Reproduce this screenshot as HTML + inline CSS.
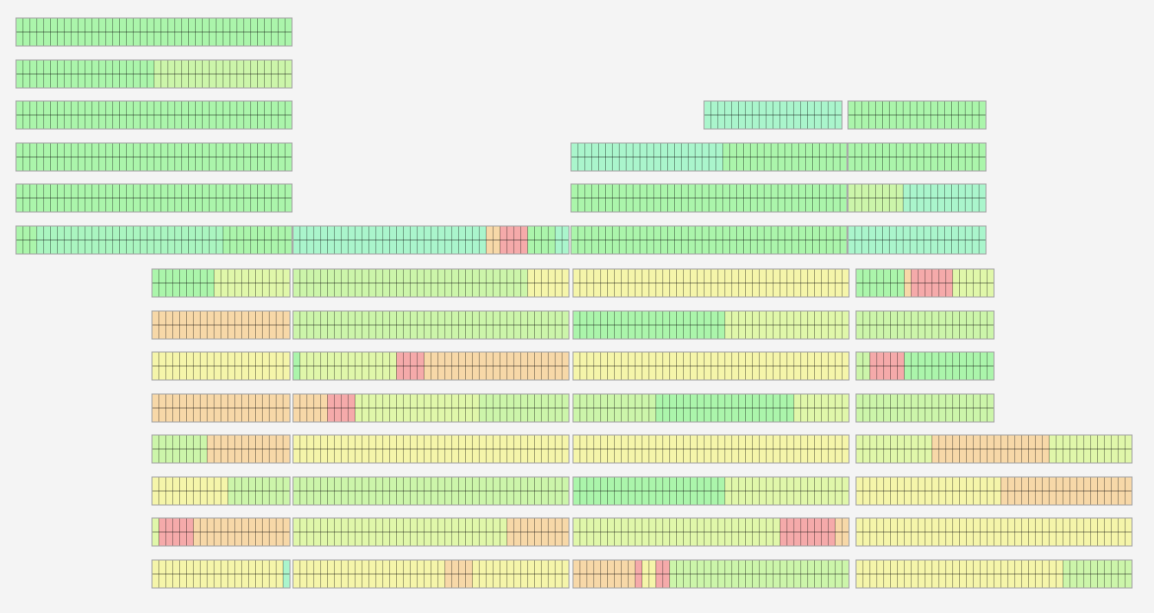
<!DOCTYPE html>
<html><head><meta charset="utf-8"><style>
html,body{margin:0;padding:0;background:#f4f4f4;width:1154px;height:613px;overflow:hidden}
svg{display:block}
</style></head><body>
<svg id="s" width="1154" height="613" xmlns="http://www.w3.org/2000/svg"></svg>
<script>
var C={G:'#abf5ab',C:'#aaf5cc',M:'#aaf5c0',L:'#ccf5aa',Y:'#e0f7aa',y:'#f5f5aa',O:'#f7d8a8',R:'#f5aaaa'};
var ys=[18,60,101,143,184,226,269,311,352,394,435,477,518,560];
var B=[
[0,16,40,'G40'],[1,16,40,'G20L20'],[2,16,40,'G40'],[2,704,20,'C20'],[2,848,20,'G20'],
[3,16,40,'G40'],[3,571,40,'C22G18'],[3,848,20,'G20'],
[4,16,40,'G40'],[4,571,40,'G40'],[4,848,20,'L8C12'],
[5,16,40,'G3M27G10'],[5,293,40,'C28O2R4G4C2'],[5,571,40,'G40'],[5,848,20,'C20'],
[6,152,20,'G9Y11'],[6,293,40,'L34y6'],[6,573,40,'y40'],[6,856,20,'G7O1R6Y6'],
[7,152,20,'O20'],[7,293,40,'L40'],[7,573,40,'G22Y18'],[7,856,20,'L20'],
[8,152,20,'y20'],[8,293,40,'G1Y14R4O21'],[8,573,40,'y40'],[8,856,20,'L2R5G13'],
[9,152,20,'O20'],[9,293,40,'O5R4Y18L13'],[9,573,40,'L12G20Y8'],[9,856,20,'L20'],
[10,152,20,'L8O12'],[10,293,40,'y40'],[10,573,40,'y40'],[10,856,40,'Y11O17Y12'],
[11,152,20,'y11L9'],[11,293,40,'L40'],[11,573,40,'G22Y18'],[11,856,40,'y21O19'],
[12,152,20,'Y1R5O14'],[12,293,40,'Y31O9'],[12,573,40,'Y30R8O2'],[12,856,40,'y40'],
[13,152,20,'y19C1'],[13,293,40,'y22O4y14'],[13,573,40,'O9R1y2R2L26'],[13,856,40,'y30L10']];
var cw=6.9,h=28,o='';
B.forEach(function(b){
 var y=ys[b[0]],x=b[1],n=b[2],cols=[];
 b[3].replace(/([A-Za-z])(\d+)/g,function(m,c,k){for(var i=0;i<+k;i++)cols.push(C[c]);});
 var w=n*cw;
 for(var i=0;i<n;i++){o+='<rect x="'+(x+i*cw)+'" y="'+y+'" width="'+(cw+0.1)+'" height="'+h+'" fill="'+cols[i]+'"/>';}
 for(var i=1;i<n;i++){o+='<line x1="'+(x+i*cw)+'" y1="'+y+'" x2="'+(x+i*cw)+'" y2="'+(y+h)+'" stroke="rgba(0,0,0,0.3)" stroke-width="1"/>';}
 o+='<line x1="'+x+'" y1="'+(y+14)+'" x2="'+(x+w)+'" y2="'+(y+14)+'" stroke="rgba(0,0,0,0.4)" stroke-width="1"/>';
 o+='<rect x="'+x+'" y="'+y+'" width="'+w+'" height="'+h+'" fill="none" stroke="#a8a8a8" stroke-width="1"/>';
});
document.getElementById('s').innerHTML=o;
</script>
</body></html>
